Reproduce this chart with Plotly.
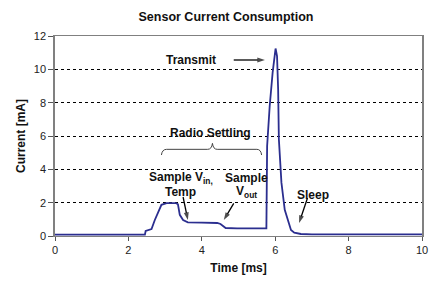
import plotly.graph_objects as go

# ---- data ----
time_ms = [0.0, 0.5, 1.0, 1.5, 2.0, 2.45, 2.47, 2.55, 2.63, 2.72, 2.81, 2.90, 3.04, 3.30,
           3.35, 3.40, 3.49, 3.62, 4.00, 4.42, 4.51, 4.60, 4.65, 4.96, 5.20, 5.50, 5.76,
           5.78, 5.85, 5.93, 5.99, 6.01, 6.05, 6.08, 6.10, 6.17, 6.26, 6.35, 6.43, 6.52,
           6.70, 7.00, 8.00, 9.00, 10.0]
current_ma = [0.08, 0.08, 0.08, 0.08, 0.08, 0.08, 0.30, 0.36, 0.42, 0.96, 1.46, 1.87, 1.97, 1.97,
              1.90, 1.27, 0.96, 0.82, 0.80, 0.78, 0.72, 0.56, 0.48, 0.46, 0.47, 0.46, 0.46,
              5.40, 7.80, 9.80, 11.10, 11.25, 10.80, 8.80, 5.80, 3.20, 1.57, 0.86, 0.36, 0.20,
              0.12, 0.10, 0.10, 0.10, 0.10]

x_ticks = [0, 2, 4, 6, 8, 10]
y_ticks = [0, 2, 4, 6, 8, 10, 12]

FONT = "Arial, 'Liberation Sans', sans-serif"
LINE = "#2B2E8F"

fig = go.Figure()
fig.add_trace(go.Scatter(x=time_ms, y=current_ma, mode="lines",
                         line=dict(color=LINE, width=1.8), showlegend=False,
                         hoverinfo="skip"))

# text labels
labels = [
    dict(x=3.70, y=10.56, text="<b>Transmit</b>"),
    dict(x=4.24, y=6.18, text="<b>Radio Settling</b>"),
    dict(x=3.43, y=3.48, text="<b>Sample V<sub>in,</sub></b>"),
    dict(x=3.43, y=2.64, text="<b>Temp</b>"),
    dict(x=5.23, y=3.48, text="<b>Sample</b>"),
    dict(x=5.23, y=2.64, text="<b>V<sub>out</sub></b>"),
    dict(x=7.02, y=2.46, text="<b>Sleep</b>"),
]
for lab in labels:
    fig.add_annotation(x=lab["x"], y=lab["y"], text=lab["text"], showarrow=False,
                       xref="x", yref="y", font=dict(family=FONT, size=12, color="#111"))

# arrows: (tail_x, tail_y, head_x, head_y) drawn as line + arrow-head marker
arrows = [
    (4.87, 10.56, 5.72, 10.56),
    (3.49, 2.34, 3.62, 0.96),
    (4.87, 1.96, 4.60, 0.96),
    (6.88, 2.28, 6.65, 0.78),
]
for tx, ty, hx, hy in arrows:
    fig.add_trace(go.Scatter(x=[tx, hx], y=[ty, hy], mode="lines+markers",
                             line=dict(color="black", width=1.3),
                             marker=dict(symbol="arrow", size=[0, 8], angleref="previous",
                                         color="black", line=dict(width=0)),
                             showlegend=False, hoverinfo="skip"))

# curly brace under "Radio Settling"
fig.add_shape(type="path", xref="x", yref="y",
              path="M 2.90,4.86 Q 2.92,5.20 3.04,5.20 L 4.16,5.20 Q 4.27,5.20 4.29,5.56 "
                   "Q 4.31,5.20 4.42,5.20 L 5.50,5.20 Q 5.61,5.20 5.63,4.86",
              line=dict(color="#444", width=1))

fig.update_layout(
    width=438, height=283,
    margin=dict(l=55, r=10, t=36, b=47),
    paper_bgcolor="white", plot_bgcolor="white",
    font=dict(family=FONT, size=11, color="#222"),
    title=dict(text="<b>Sensor Current Consumption</b>", x=0.516, xanchor="center",
               y=1 - 17 / 283, yanchor="middle", yref="container",
               font=dict(family=FONT, size=12.5, color="#111")),
)
fig.update_xaxes(range=[0, 10], tickvals=x_ticks, ticktext=[str(v) for v in x_ticks],
                 showgrid=False, zeroline=False,
                 showline=True, linecolor="#808080", linewidth=1, mirror=True,
                 ticks="outside", ticklen=4, tickcolor="#555",
                 tickfont=dict(family=FONT, size=11, color="#222"),
                 title=dict(text="<b>Time [ms]</b>", standoff=8,
                            font=dict(family=FONT, size=12, color="#111")))
fig.update_yaxes(range=[0, 12], tickvals=y_ticks, ticktext=[str(v) for v in y_ticks],
                 showgrid=True, gridcolor="black", gridwidth=0.8, griddash="3px,3px",
                 zeroline=False,
                 showline=True, linecolor="#808080", linewidth=1.5, mirror=True,
                 ticks="outside", ticklen=5, tickcolor="#555",
                 tickfont=dict(family=FONT, size=11, color="#222"),
                 title=dict(text="<b>Current [mA]</b>", standoff=6,
                            font=dict(family=FONT, size=12, color="#111")))

fig.write_html("out.html", config={"displayModeBar": False},
               post_script="document.body.style.margin='0';")
